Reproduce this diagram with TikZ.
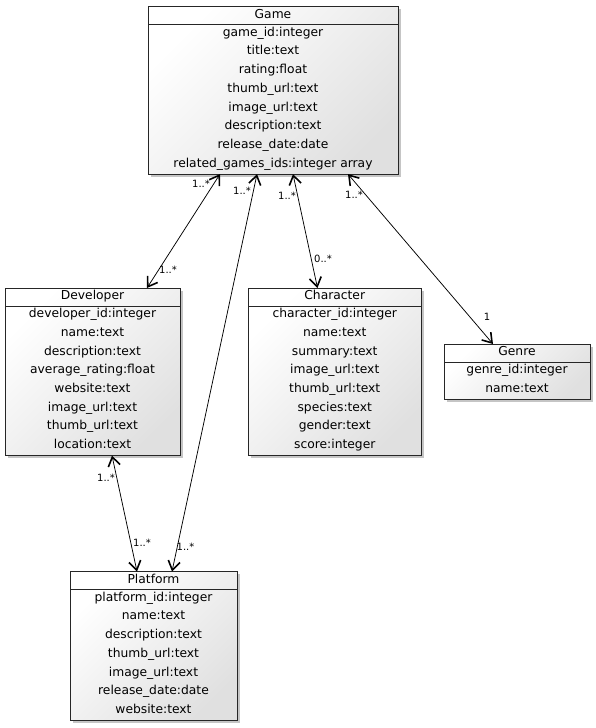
\documentclass[tikz,border=0pt]{standalone}
\usepackage{fontspec}
\setmainfont{DejaVu Sans}
\usetikzlibrary{arrows.meta,shadows,calc}
\tikzset{
  classbox/.style={draw=black!85, line width=0.8pt, inner sep=0pt, outer sep=0pt,
    anchor=north west, top color=white, bottom color=black!12, shading angle=45,
    drop shadow={shadow xshift=2.5pt, shadow yshift=-2.5pt, fill=black!45}},
  rowtext/.style={font=\fontsize{12.3}{14}\selectfont, inner sep=0pt, anchor=center,
    text height=8.8pt, text depth=2.6pt},
  headline/.style={draw=black!85, line width=0.8pt},
  barb/.tip={Straight Barb[length=9pt,width=12pt,line width=1.6pt]},
  assoc/.style={draw, line width=0.75pt, barb-barb},
  mult/.style={font=\fontsize{10}{12}\selectfont, inner sep=0pt, text height=7pt, text depth=0pt},
}
% name, x, y, width, number of rows, title, rows
\newcommand\umlclass[7]{%
  \pgfmathsetmacro\umlh{18+#5*18.7}%
  \node[classbox, minimum width=#4pt, minimum height=\umlh pt] (#1) at (#2,#3) {};
  \draw[headline] ($(#1.north west)+(0,18)$) -- ($(#1.north east)+(0,18)$);
  \node[rowtext] (#1-title) at ($(#1.north)+(0,8.5)$) {#6};
  \foreach \r [count=\i] in {#7}{%
    \pgfmathsetmacro\umly{18+8.6+(\i-1)*18.7}%
    \node[rowtext] (#1-\i) at ($(#1.north)+(0,\umly)$) {\r};
  }%
}
\begin{document}
\begin{tikzpicture}[x=1pt,y=-1pt]
\useasboundingbox (0,0) rectangle (595,728);

\umlclass{game}{148}{6.5}{250}{8}{Game}{game\_id:integer,title:text,rating:float,thumb\_url:text,image\_url:text,description:text,release\_date:date,related\_games\_ids:integer array}
\umlclass{dev}{5}{288}{175}{8}{Developer}{developer\_id:integer,name:text,description:text,average\_rating:float,website:text,image\_url:text,thumb\_url:text,location:text}
\umlclass{char}{248.5}{288}{172.5}{8}{Character}{character\_id:integer,name:text,summary:text,image\_url:text,thumb\_url:text,species:text,gender:text,score:integer}
\umlclass{genre}{444}{344}{146}{2}{Genre}{genre\_id:integer,name:text}
\umlclass{plat}{70}{571.5}{167}{7}{Platform}{platform\_id:integer,name:text,description:text,thumb\_url:text,image\_url:text,release\_date:date,website:text}

% connectors
\draw[assoc] ($(game.south west)+(72,0)$) -- ($(dev.north west)+(142,0)$);
\draw[assoc] ($(game.south west)+(109,0)$) -- ($(plat.north west)+(102,0)$);
\draw[assoc] ($(game.south west)+(145,0)$) -- ($(char.north west)+(69,0)$);
\draw[assoc] ($(game.south west)+(200,0)$) -- ($(genre.north west)+(49,0)$);
\draw[assoc] ($(dev.south west)+(107,0)$) -- ($(plat.north west)+(67,0)$);

% multiplicities
\node[mult] (m1) at (201,184) {1..*};
\node[mult] (m2) at (168,270) {1..*};
\node[mult] (m3) at (242,191) {1..*};
\node[mult] (m4) at (185.5,547) {1..*};
\node[mult] (m5) at (287,196) {1..*};
\node[mult] (m6) at (323,259) {0..*};
\node[mult] (m7) at (354,195) {1..*};
\node[mult] (m8) at (487,317) {1};
\node[mult] (m9) at (106,478) {1..*};
\node[mult] (m10) at (142,543) {1..*};
\end{tikzpicture}
\end{document}
